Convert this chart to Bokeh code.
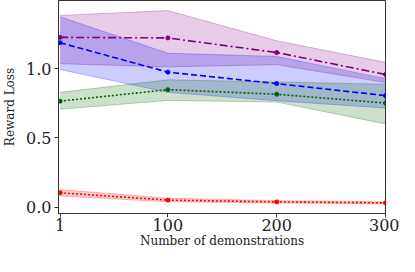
from bokeh.plotting import figure
from bokeh.models import FixedTicker, Range1d, NumeralTickFormatter
from bokeh.embed import file_html
from bokeh.resources import INLINE

x = [1, 100, 200, 300]

purple_mean = [1.229, 1.225, 1.119, 0.960]
purple_low = [1.038, 1.015, 1.031, 0.902]
purple_high = [1.388, 1.423, 1.204, 1.048]

blue_mean = [1.190, 0.977, 0.894, 0.807]
blue_low = [0.996, 0.831, 0.770, 0.717]
blue_high = [1.378, 1.114, 1.091, 0.930]

green_mean = [0.767, 0.850, 0.817, 0.753]
green_low = [0.708, 0.772, 0.760, 0.602]
green_high = [0.831, 0.921, 0.906, 0.889]

red_mean = [0.103, 0.050, 0.037, 0.030]
red_low = [0.080, 0.038, 0.029, 0.023]
red_high = [0.126, 0.064, 0.046, 0.038]

x_ticks = [1, 100, 200, 300]
y_ticks = [0.0, 0.5, 1.0]

FONT = "DejaVu Serif"

p = figure(width=399, height=250, output_backend="svg", toolbar_location=None,
           x_range=Range1d(-0.5, 300), y_range=Range1d(-0.047, 1.496),
           min_border_left=50, min_border_right=14, min_border_top=0, min_border_bottom=30)

series = [
    (purple_mean, purple_low, purple_high, "purple", "dashdot"),
    (blue_mean, blue_low, blue_high, "blue", "dashed"),
    (green_mean, green_low, green_high, "darkgreen", "dotted"),
    (red_mean, red_low, red_high, "red", "dotted"),
]

for m, lo, hi, c, dash in series:
    p.varea(x=x, y1=lo, y2=hi, fill_color=c, fill_alpha=0.2)
    p.line(x=x, y=hi, line_color=c, line_alpha=0.25, line_width=1)
    p.line(x=x, y=lo, line_color=c, line_alpha=0.25, line_width=1)

for m, lo, hi, c, dash in series:
    dash_str = {"dashdot": "8 3 2 3", "dashed": "6 3", "dotted": "2 2"}[dash]
    p.line(x=x, y=m, line_color=c, line_width=1.6, line_dash=dash_str)
    p.scatter(x=x, y=m, size=4, color=c)

p.xgrid.visible = False
p.ygrid.visible = False
p.outline_line_color = "#333333"
p.outline_line_width = 1
p.background_fill_color = "white"

p.xaxis.ticker = FixedTicker(ticks=x_ticks)
p.yaxis.ticker = FixedTicker(ticks=y_ticks)
p.yaxis.formatter = NumeralTickFormatter(format="0.0")

for ax in (p.xaxis[0], p.yaxis[0]):
    ax.major_label_text_font = FONT
    ax.major_label_text_font_size = "16px"
    ax.major_label_text_color = "#222222"
    ax.axis_label_text_font = FONT
    ax.axis_label_text_font_size = "12px"
    ax.axis_label_text_font_style = "normal"
    ax.axis_label_text_color = "#222222"
    ax.axis_line_color = "#333333"
    ax.major_tick_line_color = "#333333"
    ax.major_tick_out = 4
    ax.major_tick_in = 0
    ax.minor_tick_line_color = None

p.xaxis.major_label_standoff = 1
p.yaxis.major_label_standoff = 3
p.xaxis.axis_label = "Number of demonstrations"
p.yaxis.axis_label = "Reward Loss"
p.xaxis.axis_label_standoff = 0
p.yaxis.axis_label_standoff = 6

open("out.html", "w").write(file_html(p, INLINE))
